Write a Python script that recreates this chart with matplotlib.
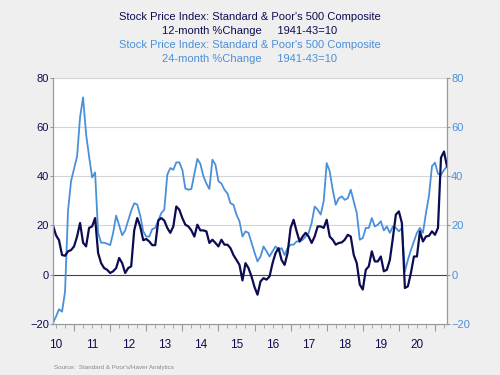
import numpy as np
import pandas as pd
import matplotlib
matplotlib.use("Agg")
from matplotlib import pyplot as plt

# monthly observations, Jun 2010 .. May 2021
start_month = "2010-06"
year_labels = ["10", "11", "12", "13", "14", "15", "16", "17", "18", "19", "20"]

chg_12m = [20, 16, 14, 8, 7.7, 9.5, 10, 11.5, 15.5, 21, 13, 11.5, 19, 19.6, 23, 8.8, 4.7, 2.7, 2, 0.7,
           1.4, 2.7, 6.8, 4.7, 0.7, 2.7, 3.4, 18, 23, 19.6, 14, 14.5, 13.5, 12, 12, 22, 23, 22, 19, 17,
           19.6, 27.7, 26.4, 23, 20.3, 19.6, 18, 15.5, 20.3, 18, 18, 17.6, 12.9, 14.2, 12.9, 11.5, 14.2, 12.2, 12.2, 10.8,
           8, 6, 4, -2.3, 4.7, 2.7, -0.7, -5, -8.1, -2.7, -1.4, -2, -0.7, 4.7, 8.8, 10.8, 6, 4, 8.8, 19,
           22.3, 17.6, 13.5, 15.5, 17, 15.5, 12.9, 15.5, 19.6, 19.6, 19, 22.3, 15.5, 14.2, 12.2, 12.9, 13.1, 14.2, 16.2, 15.5,
           8, 4.7, -4, -6, 2, 3.4, 9.5, 5.4, 5.4, 7.4, 1.4, 2, 6, 14.9, 24.4, 25.7, 21, -5.4, -4.7, 0.7,
           7.4, 7.4, 17.6, 13.5, 15.5, 15.8, 17.6, 16.2, 19, 47.5, 50, 44]

chg_24m = [-19.5, -17, -14, -15, -7, 26, 38, 43, 48, 64, 72, 57, 48, 39.5, 41.5, 17, 13, 13, 12.6, 12,
           17, 24, 20, 16, 18, 22, 26, 29, 28.5, 24, 17.6, 15.5, 15.5, 18.5, 19, 22, 25, 26.4, 40.6, 43.3,
           42.6, 45.6, 45.6, 42.6, 35, 34.5, 34.8, 41, 47, 45, 40, 37, 34.8, 46.7, 44.7, 38, 37, 34.5, 33, 29,
           28.4, 24.4, 21.7, 15.5, 17.6, 17, 13, 9, 5.4, 7.4, 11.5, 9.5, 7.4, 9.5, 11.5, 10, 10.8, 8, 10.8, 12.2,
           12.2, 13.5, 13.5, 14.2, 15.5, 17, 21, 27.7, 26.4, 24.4, 29.8, 45.3, 42, 34.5, 28.4, 31, 31.8, 30.4, 31, 34.5,
           29.8, 25, 14.2, 14.9, 19, 19, 23, 19.6, 20.3, 21.7, 18, 19.6, 17, 19.6, 19, 17.6, 19, 1.4, 6, 10,
           13.5, 17, 19, 17, 25, 32, 44, 45.5, 41, 40.5, 42.5, 44]

DARK = "#0c0c52"
LIGHT = "#4a90d9"
BG = "#efefef"

plt.rcParams["font.family"] = ["Liberation Sans", "DejaVu Sans"]

dates = pd.date_range(start_month, periods=len(chg_12m), freq="MS")
x = dates.year + (dates.month - 1) / 12.0

fig = plt.figure(figsize=(5, 3.75), dpi=100, facecolor=BG)
ax = fig.add_axes([0.106, 0.136, 0.788, 0.657])
ax.set_facecolor("white")

ax.set_xlim(x[0], x[-1])
ax.set_ylim(-20, 80)
for v in [20, 40, 60, 80]:
    ax.axhline(v, color="#d4d4d4", lw=0.8, zorder=0)
ax.axhline(0, color="#444444", lw=0.8, zorder=1)

ax.plot(x, chg_24m, color=LIGHT, lw=1.3, zorder=2)
ax.plot(x, chg_12m, color=DARK, lw=1.6, zorder=3)

for s in ["top"]:
    ax.spines[s].set_visible(False)
for s in ["left", "right", "bottom"]:
    ax.spines[s].set_color("#999999")
    ax.spines[s].set_linewidth(0.8)

ax.set_yticks([-20, 0, 20, 40, 60, 80])
ax.tick_params(axis="y", colors="#999999", labelcolor=DARK, labelsize=8, length=2, pad=1)

years = np.arange(2011, 2022)
quarters = [y + q / 4 for y in range(2010, 2022) for q in (1, 2, 3) if x[0] <= y + q / 4 <= x[-1]]
ax.set_xticks(years)
ax.set_xticklabels([])
ax.set_xticks(quarters, minor=True)
ax.tick_params(axis="x", which="major", length=5, colors="#999999", width=0.8)
ax.tick_params(axis="x", which="minor", length=3, colors="#999999", width=0.6)
for i, lab in enumerate(year_labels):
    ax.text(2010.5 + i, -0.06, lab, transform=ax.get_xaxis_transform(),
            ha="center", va="top", fontsize=8.5, color=DARK)

ax2 = ax.twinx()
ax2.set_ylim(-20, 80)
ax2.set_yticks([-20, 0, 20, 40, 60, 80])
ax2.tick_params(axis="y", colors="#999999", labelcolor=LIGHT, labelsize=8, length=2, pad=1)
ax2.spines["top"].set_visible(False)
for s in ["left", "right", "bottom"]:
    ax2.spines[s].set_color("#999999")
    ax2.spines[s].set_linewidth(0.8)

fig.text(0.5, 0.955, "Stock Price Index: Standard & Poor's 500 Composite", ha="center", va="center",
         fontsize=8, color=DARK)
fig.text(0.5, 0.918, "12-month %Change     1941-43=10", ha="center", va="center", fontsize=8, color=DARK)
fig.text(0.5, 0.880, "Stock Price Index: Standard & Poor's 500 Composite", ha="center", va="center",
         fontsize=8, color=LIGHT)
fig.text(0.5, 0.843, "24-month %Change     1941-43=10", ha="center", va="center", fontsize=8, color=LIGHT)

fig.text(0.108, 0.012, "Source:  Standard & Poor's/Haver Analytics", ha="left", va="bottom",
         fontsize=4.5, color="#888888")

fig.savefig("out.png", dpi=100, facecolor=BG)
